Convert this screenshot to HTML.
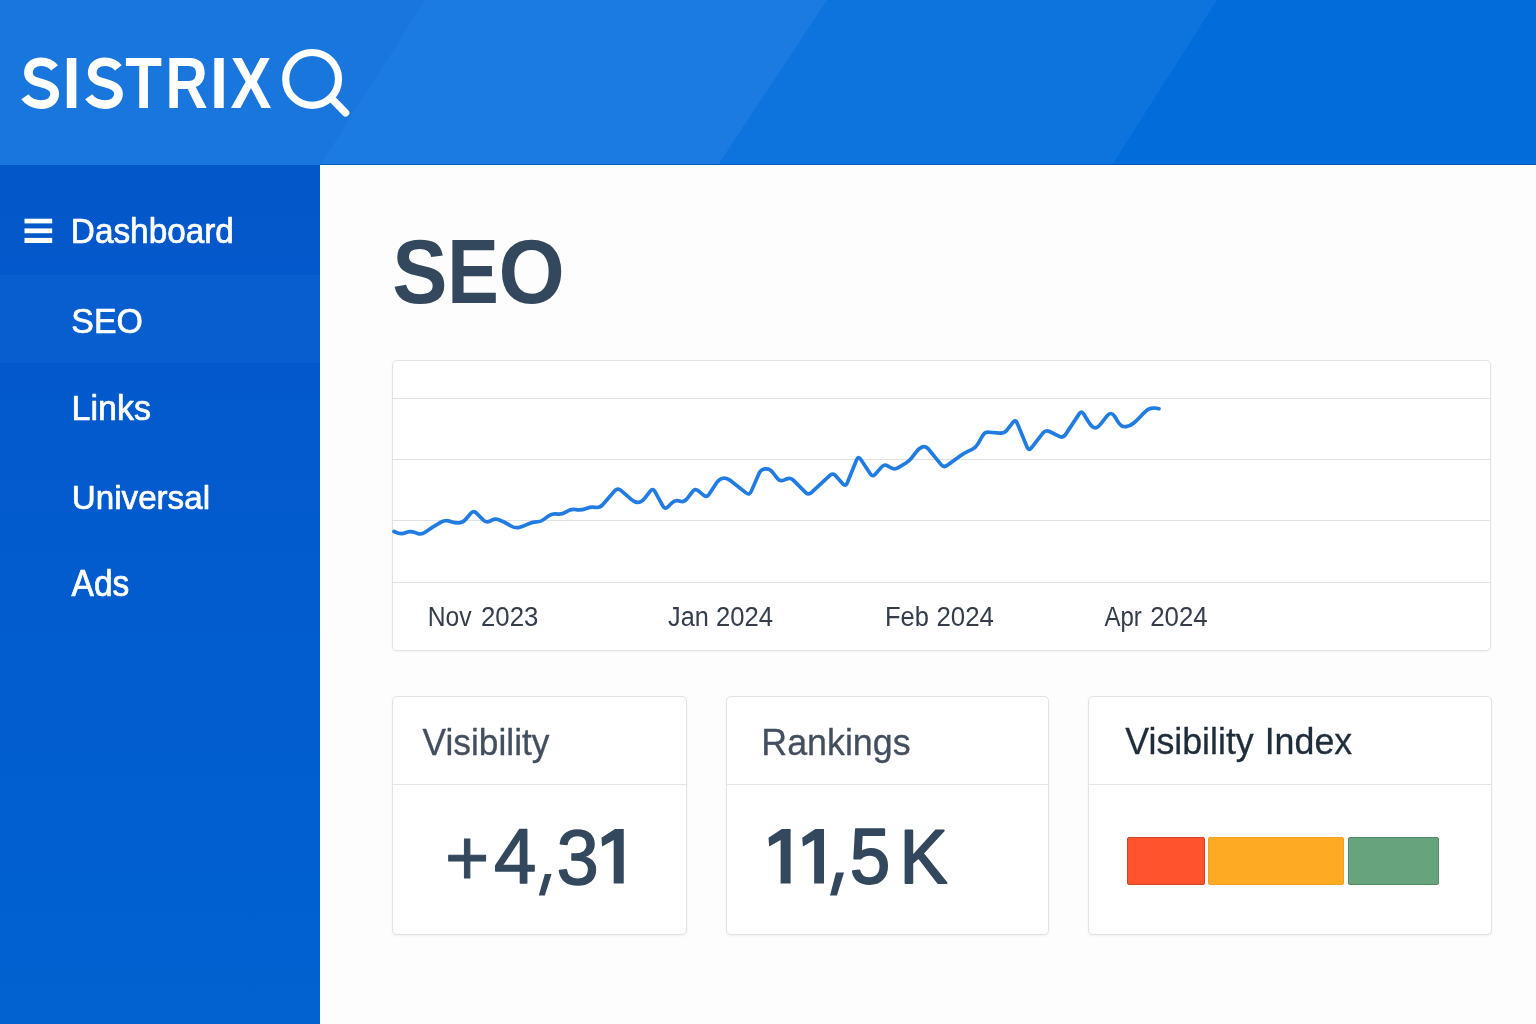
<!DOCTYPE html>
<html lang="en">
<head>
<meta charset="utf-8">
<title>SISTRIX SEO Dashboard</title>
<style>
  html, body { margin: 0; padding: 0; }
  body {
    width: 1536px; height: 1024px; overflow: hidden; position: relative;
    background: #fdfdfd;
    font-family: "Liberation Sans", sans-serif;
    color: #3b4858;
  }
  .abs { position: absolute; }
  svg text { font-family: "Liberation Sans", sans-serif; }
  #overlay { position: absolute; left: 0; top: 0; pointer-events: none; will-change: transform; }

  /* header */
  #header { left: 0; top: 0; width: 1536px; height: 165px; background: #026cda; overflow: hidden; }

  /* sidebar */
  #sidebar { left: 0; top: 165px; width: 320px; height: 859px;
             background: linear-gradient(180deg, #0457c9 0px, #0359cc 200px, #025dce 500px, #0162d0 859px); }
  #active { left: 0; top: 110px; width: 320px; height: 88px; background: #085ecf; }

  /* cards */
  .card { position: absolute; background: #fff; border: 1px solid #e2e3e5; border-radius: 5px;
          box-sizing: border-box; box-shadow: 0 1px 3px rgba(0,0,0,0.055); }
  .divider { position: absolute; left: 0; right: 0; height: 1px; background: #e4e5e7; }
</style>
</head>
<body>

<!-- header -->
<div id="header" class="abs">
  <svg class="abs" width="1536" height="165" viewBox="0 0 1536 165" style="left:0;top:0;">
    <rect width="1536" height="165" fill="#026cda"/>
    <polygon points="0,0 1217,0 1112,165 0,165" fill="#0d74de"/>
    <polygon points="0,0 827,0 718,165 0,165" fill="#1c7be1"/>
    <polygon points="0,0 425,0 320,165 0,165" fill="#1976dd"/>
    <rect x="320" y="164" width="1216" height="1" fill="#0a57b4" opacity="0.85"/>
  </svg>
</div>

<!-- sidebar -->
<div id="sidebar" class="abs">
  <div id="active" class="abs"></div>
</div>

<!-- chart card -->
<div class="card" style="left:392px; top:360px; width:1099px; height:291px;"></div>

<!-- Visibility card -->
<div class="card" style="left:392px; top:696px; width:295px; height:239px;">
  <div class="divider" style="top:87px;"></div>
</div>

<!-- Rankings card -->
<div class="card" style="left:726px; top:696px; width:323px; height:239px;">
  <div class="divider" style="top:87px;"></div>
</div>

<!-- Visibility Index card -->
<div class="card" style="left:1088px; top:696px; width:404px; height:239px;">
  <div class="divider" style="top:87px;"></div>
</div>
<div class="abs" style="left:1127px; top:837px; width:78px; height:48px; background:#ff532e; box-sizing:border-box; border:1px solid #cf4426; border-radius:2px;"></div>
<div class="abs" style="left:1208px; top:837px; width:136px; height:48px; background:#ffaa22; box-sizing:border-box; border:1px solid #f0a020; border-radius:2px;"></div>
<div class="abs" style="left:1348px; top:837px; width:91px; height:48px; background:#67a47e; box-sizing:border-box; border:1px solid #4f8b66; border-radius:2px;"></div>

<!-- vector / text overlay in absolute page coordinates -->
<svg id="overlay" width="1536" height="1024" viewBox="0 0 1536 1024">
  <!-- logo: SISTRIX + magnifier -->
  <g id="logo">
    <path d="M54.6,67.9 C51.4,63.9 46.8,61.75 41,61.75 C33.4,61.75 28.4,66.4 28.4,72.6 C28.4,79.6 35,81.4 41.6,83.1 C48.8,84.9 54.7,87.4 54.7,93.8 C54.7,100.1 49.2,104.55 41.2,104.55 C34,104.55 28.4,101.7 24.9,96.8" transform="translate(0,0)" fill="none" stroke="#fff" stroke-width="8.7" stroke-linecap="butt" stroke-linejoin="round"/>
    <path d="M54.6,67.9 C51.4,63.9 46.8,61.75 41,61.75 C33.4,61.75 28.4,66.4 28.4,72.6 C28.4,79.6 35,81.4 41.6,83.1 C48.8,84.9 54.7,87.4 54.7,93.8 C54.7,100.1 49.2,104.55 41.2,104.55 C34,104.55 28.4,101.7 24.9,96.8" transform="translate(63.8,0)" fill="none" stroke="#fff" stroke-width="8.7" stroke-linecap="butt" stroke-linejoin="round"/>
    <text transform="translate(62.53,108.30) scale(0.6526,0.7195)" font-size="100" font-weight="bold" fill="#ffffff">I</text>
    <text transform="translate(125.23,108.30) scale(0.6003,0.7195)" font-size="100" font-weight="bold" fill="#ffffff">T</text>
    <text transform="translate(165.48,108.30) scale(0.5860,0.7195)" font-size="100" font-weight="bold" fill="#ffffff">R</text>
    <text transform="translate(210.06,108.30) scale(0.6491,0.7195)" font-size="100" font-weight="bold" fill="#ffffff">I</text>
    <text transform="translate(230.46,108.30) scale(0.6144,0.7195)" font-size="100" font-weight="bold" fill="#ffffff">X</text>
    <circle cx="312.1" cy="78.9" r="26.4" fill="none" stroke="#fff" stroke-width="7.2"/>
    <line x1="331" y1="97.8" x2="345.6" y2="112.8" stroke="#fff" stroke-width="7.4" stroke-linecap="round"/>
  </g>

  <!-- sidebar nav -->
  <g id="hamburger" fill="#fff">
    <rect x="24.5" y="218.7" width="27.7" height="4.7"/>
    <rect x="24.5" y="228.4" width="27.7" height="4.85"/>
    <rect x="24.5" y="237.9" width="27.7" height="5.1"/>
  </g>
  <text transform="translate(70.82,242.65) scale(0.3334,0.3430)" font-size="100" fill="#ffffff" stroke="#ffffff" stroke-width="2.07" stroke-linejoin="round" xml:space="preserve">Dashboard</text>
  <text transform="translate(71.31,333.25) scale(0.3389,0.3459)" font-size="100" fill="#ffffff" stroke="#ffffff" stroke-width="2.04" stroke-linejoin="round" xml:space="preserve">SEO</text>
  <text transform="translate(71.56,419.65) scale(0.3398,0.3503)" font-size="100" fill="#ffffff" stroke="#ffffff" stroke-width="2.03" stroke-linejoin="round" xml:space="preserve">Links</text>
  <text transform="translate(71.79,508.65) scale(0.3318,0.3401)" font-size="100" fill="#ffffff" stroke="#ffffff" stroke-width="2.08" stroke-linejoin="round" xml:space="preserve">Universal</text>
  <text transform="translate(71.58,596.15) scale(0.3353,0.3605)" font-size="100" fill="#ffffff" stroke="#ffffff" stroke-width="2.01" stroke-linejoin="round" xml:space="preserve">Ads</text>

  <!-- page title -->
  <text transform="translate(392.21,303.11) scale(0.8287,0.9096)" font-size="100" font-weight="bold" fill="#33485d">S</text>
  <text transform="translate(447.33,303.00) scale(0.7736,0.9026)" font-size="100" font-weight="bold" fill="#33485d">E</text>
  <text transform="translate(498.61,303.11) scale(0.8513,0.9096)" font-size="100" font-weight="bold" fill="#33485d">O</text>

  <!-- chart -->
  <g stroke="#dfe1e4" stroke-width="1">
    <line x1="393" y1="398.5" x2="1490" y2="398.5"/>
    <line x1="393" y1="459.5" x2="1490" y2="459.5"/>
    <line x1="393" y1="520.5" x2="1490" y2="520.5"/>
    <line x1="393" y1="582.5" x2="1490" y2="582.5"/>
  </g>
  <path id="line" fill="none" stroke="#217ce2" stroke-width="3.7" stroke-linejoin="round" stroke-linecap="round" d="M394.00,531.50 L397.74,532.90 Q401.49,534.30 405.51,532.78 L406.22,532.52 Q410.24,531.00 414.32,532.36 L417.56,533.44 Q421.64,534.80 425.14,532.31 L429.20,529.42 Q432.71,526.93 436.44,524.78 L441.43,521.91 Q445.15,519.77 449.24,521.11 L451.14,521.73 Q455.23,523.07 459.13,522.84 L459.13,522.84 Q463.03,522.60 465.78,519.30 L470.69,513.38 Q473.43,510.07 476.47,513.12 L483.29,519.98 Q486.32,523.02 490.12,521.01 L491.45,520.31 Q495.25,518.30 499.24,519.91 L500.07,520.25 Q504.06,521.86 507.76,524.05 L511.46,526.23 Q515.16,528.41 518.98,527.42 L518.98,527.42 Q522.80,526.43 526.72,524.66 L528.76,523.74 Q532.68,521.98 536.54,521.96 L536.54,521.96 Q540.40,521.94 543.85,519.37 L548.38,515.99 Q551.83,513.42 556.11,513.86 L557.84,514.04 Q562.11,514.48 565.75,512.19 L567.25,511.26 Q570.89,508.97 575.15,509.53 L577.29,509.81 Q581.55,510.37 585.55,508.79 L586.95,508.23 Q590.95,506.65 595.20,507.31 L595.56,507.37 Q599.81,508.04 602.64,504.80 L614.82,490.84 Q617.65,487.60 620.90,490.41 L631.81,499.82 Q635.07,502.63 638.43,502.37 L638.43,502.37 Q641.79,502.10 644.43,498.71 L650.25,491.22 Q652.89,487.82 654.96,491.59 L662.92,506.04 Q665.00,509.80 668.03,506.76 L672.00,502.77 Q675.03,499.72 679.16,500.91 L680.20,501.21 Q684.33,502.41 686.92,498.97 L692.49,491.58 Q695.07,488.15 698.37,490.91 L703.46,495.16 Q706.76,497.92 709.10,494.32 L716.79,482.50 Q719.13,478.89 722.90,478.20 L722.90,478.20 Q726.66,477.51 730.03,480.19 L746.02,492.89 Q749.38,495.57 751.11,491.63 L759.22,473.08 Q760.94,469.14 765.24,468.92 L765.52,468.91 Q769.82,468.68 772.45,472.09 L777.32,478.39 Q779.95,481.79 783.90,480.10 L786.53,478.98 Q790.48,477.29 793.51,480.34 L805.45,492.34 Q808.48,495.39 811.62,492.44 L829.64,475.54 Q832.78,472.60 835.64,475.80 L842.72,483.73 Q845.59,486.94 847.21,482.96 L856.68,459.67 Q858.30,455.68 860.67,459.27 L870.25,473.74 Q872.62,477.32 875.44,474.08 L881.48,467.12 Q884.30,463.88 888.00,466.06 L890.86,467.75 Q894.56,469.93 898.24,467.70 L905.56,463.27 Q909.24,461.04 911.85,457.62 L916.12,452.04 Q918.73,448.63 922.11,447.04 L922.11,447.04 Q925.48,445.45 928.21,448.77 L941.12,464.55 Q943.84,467.88 947.31,465.34 L960.47,455.69 Q963.94,453.15 967.86,451.38 L971.68,449.66 Q975.60,447.90 977.74,444.17 L982.64,435.59 Q984.78,431.86 989.06,432.23 L1000.06,433.17 Q1004.34,433.53 1006.96,430.13 L1012.90,422.40 Q1015.52,419.00 1017.15,422.97 L1027.11,447.29 Q1028.74,451.27 1031.39,447.88 L1043.06,432.96 Q1045.71,429.58 1049.56,431.49 L1059.26,436.32 Q1063.11,438.24 1065.48,434.64 L1079.15,413.86 Q1081.51,410.27 1083.73,413.96 L1087.79,420.72 Q1091.11,426.25 1093.93,427.62 L1093.93,427.62 Q1096.75,428.98 1100.76,423.93 L1107.09,415.93 Q1111.10,410.88 1114.54,416.33 L1118.10,421.97 Q1121.54,427.42 1126.01,426.61 L1126.01,426.61 Q1130.47,425.79 1134.17,422.71 L1134.17,422.71 Q1137.87,419.64 1142.17,414.83 L1143.13,413.74 Q1147.43,408.93 1150.71,408.33 L1150.71,408.33 Q1153.99,407.73 1156.49,408.24 L1159.00,408.75"/>
  <text transform="translate(427.73,625.60) scale(0.2466,0.2813)" font-size="100" fill="#343d49" xml:space="preserve">Nov</text>
  <text transform="translate(480.95,625.60) scale(0.2582,0.2813)" font-size="100" fill="#343d49" xml:space="preserve">2023</text>
  <text transform="translate(668.10,625.60) scale(0.2530,0.2813)" font-size="100" fill="#343d49" xml:space="preserve">Jan</text>
  <text transform="translate(715.96,625.60) scale(0.2564,0.2813)" font-size="100" fill="#343d49" xml:space="preserve">2024</text>
  <text transform="translate(884.91,625.60) scale(0.2548,0.2813)" font-size="100" fill="#343d49" xml:space="preserve">Feb</text>
  <text transform="translate(936.45,625.60) scale(0.2587,0.2813)" font-size="100" fill="#343d49" xml:space="preserve">2024</text>
  <text transform="translate(1104.45,625.60) scale(0.2406,0.2813)" font-size="100" fill="#343d49" xml:space="preserve">Apr</text>
  <text transform="translate(1150.20,625.60) scale(0.2587,0.2813)" font-size="100" fill="#343d49" xml:space="preserve">2024</text>

  <!-- card titles -->
  <text transform="translate(422.59,754.65) scale(0.3531,0.3634)" font-size="100" fill="#434f5e" stroke="#434f5e" stroke-width="0.84" stroke-linejoin="round" xml:space="preserve">Visibility</text>
  <text transform="translate(761.31,754.85) scale(0.3582,0.3648)" font-size="100" fill="#434f5e" stroke="#434f5e" stroke-width="0.83" stroke-linejoin="round" xml:space="preserve">Rankings</text>
  <text transform="translate(1125.29,754.45) scale(0.3575,0.3605)" font-size="100" fill="#1f2c3a" stroke="#1f2c3a" stroke-width="0.84" stroke-linejoin="round" xml:space="preserve">Visibility</text>
  <text transform="translate(1264.65,754.45) scale(0.3580,0.3605)" font-size="100" fill="#1f2c3a" stroke="#1f2c3a" stroke-width="0.84" stroke-linejoin="round" xml:space="preserve">Index</text>

  <!-- big numbers -->
  <text transform="translate(444.89,885.21) scale(0.7595,0.7920)" font-size="100" fill="#33485c" stroke="#33485c" stroke-width="1.29" stroke-linejoin="round">+</text>
  <text transform="translate(493.95,882.80) scale(0.7611,0.7718)" font-size="100" fill="#33485c" stroke="#33485c" stroke-width="1.83" stroke-linejoin="round">4</text>
  <polygon points="544.90,873.90 551.60,873.90 544.80,895.60 538.75,895.60" fill="#33485c"/>
  <text transform="translate(556.55,883.53) scale(0.7614,0.7839)" font-size="100" fill="#33485c" stroke="#33485c" stroke-width="1.81" stroke-linejoin="round">3</text>
  <polygon points="614.96,829.00 623.75,829.00 623.75,883.50 613.69,883.50 613.69,840.01 602.17,846.49 601.50,837.72" fill="#33485c"/>
  <polygon points="781.87,829.00 790.60,829.00 790.60,883.50 780.61,883.50 780.61,840.01 769.16,846.49 768.50,837.72" fill="#33485c"/>
  <polygon points="815.41,829.00 824.00,829.00 824.00,883.50 814.17,883.50 814.17,840.01 802.90,846.49 802.25,837.72" fill="#33485c"/>
  <polygon points="836.00,872.40 844.00,872.40 836.90,895.60 830.00,895.60" fill="#33485c"/>
  <text transform="translate(850.01,883.24) scale(0.7213,0.7739)" font-size="100" fill="#33485c" stroke="#33485c" stroke-width="2.68" stroke-linejoin="round">5</text>
  <text transform="translate(899.75,882.50) scale(0.7129,0.7631)" font-size="100" fill="#33485c" stroke="#33485c" stroke-width="2.71" stroke-linejoin="round">K</text>
</svg>

</body>
</html>
